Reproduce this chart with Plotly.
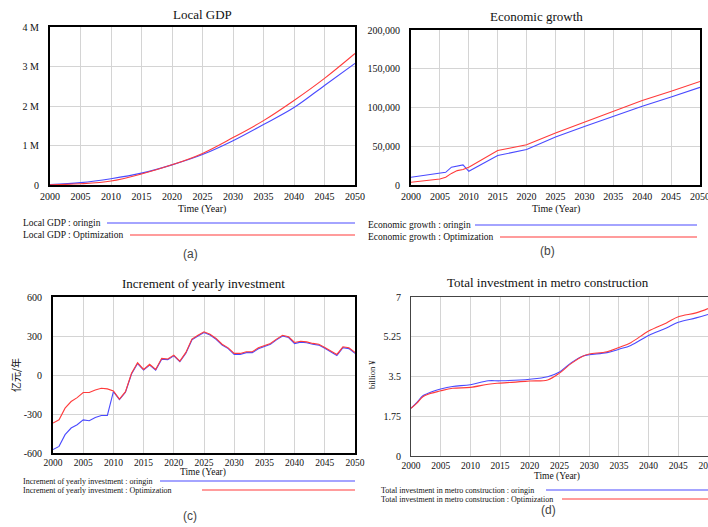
import plotly.graph_objects as go

W, H = 708, 527

# ---------------- data ----------------
# (a) Local GDP
gdp_years = [2000, 2005, 2010, 2015, 2020, 2025, 2030, 2035, 2040, 2045, 2050]
gdp_origin = [0.01e6, 0.06e6, 0.16e6, 0.30e6, 0.51e6, 0.77e6, 1.12e6, 1.53e6, 1.96e6, 2.52e6, 3.08e6]
gdp_opt = [0.005e6, 0.03e6, 0.10e6, 0.28e6, 0.51e6, 0.80e6, 1.20e6, 1.63e6, 2.14e6, 2.70e6, 3.33e6]
gdp_tickvals = [0, 1e6, 2e6, 3e6, 4e6]
gdp_ticktext = ["0", "1 M", "2 M", "3 M", "4 M"]

# (b) Economic growth
eco_years_origin = [2000, 2005, 2006, 2007, 2009, 2010, 2015, 2020, 2025, 2030, 2035, 2040, 2045, 2050]
eco_origin = [9900, 15000, 16400, 23000, 26000, 17700, 38000, 45800, 62000, 75600, 89000, 101500, 113600, 126000]
eco_years_opt = [2000, 2005, 2006, 2007, 2008, 2009, 2010, 2015, 2017, 2020, 2025, 2030, 2035, 2040, 2045, 2050]
eco_opt = [3500, 7800, 10000, 15000, 18600, 20000, 23000, 44500, 47500, 52000, 67000, 81000, 96000, 109000, 121000, 133500]
eco_tickvals = [0, 50000, 100000, 150000, 200000]
eco_ticktext = ["0", "50,000", "100,000", "150,000", "200,000"]

# (c) Increment of yearly investment (annual)
inc_years = list(range(2000, 2051))
inc_origin = [-574, -549, -459, -408, -383, -345, -352, -327, -311, -311,
              -128, -190, -133, 8, 88, 38, 76, 38, 122, 118,
              147, 102, 168, 270, 300, 327, 308, 275, 230, 203,
              158, 159, 172, 172, 202, 218, 236, 270, 300, 288,
              242, 253, 248, 236, 230, 205, 180, 150, 210, 203, 166]
inc_opt = [-370, -345, -255, -204, -174, -135, -135, -115, -102, -107,
           -122, -186, -128, 13, 94, 43, 82, 43, 128, 123,
           153, 107, 174, 276, 306, 332, 314, 281, 237, 209,
           166, 166, 179, 179, 209, 225, 243, 276, 306, 294,
           250, 260, 255, 243, 237, 212, 186, 158, 217, 209, 174]
inc_tickvals = [-600, -300, 0, 300, 600]
inc_ticktext = ["-600", "-300", "0", "300", "600"]

# (d) Total investment in metro construction
metro_years = [2000, 2001, 2002, 2003, 2004, 2005, 2007, 2010, 2013, 2015, 2020, 2023,
               2025, 2027, 2029, 2030, 2033, 2035, 2037, 2040, 2043, 2045, 2048, 2050]
metro_origin = [2.10, 2.36, 2.65, 2.77, 2.87, 2.95, 3.06, 3.14, 3.31, 3.31, 3.38, 3.49,
                3.70, 4.11, 4.40, 4.46, 4.55, 4.70, 4.87, 5.31, 5.64, 5.89, 6.08, 6.23]
metro_opt = [2.10, 2.33, 2.61, 2.73, 2.80, 2.87, 2.98, 3.02, 3.16, 3.21, 3.30, 3.35,
             3.65, 4.08, 4.40, 4.49, 4.59, 4.78, 4.99, 5.50, 5.86, 6.13, 6.30, 6.49]
metro_tickvals = [0, 1.75, 3.5, 5.25, 7]
metro_ticktext = ["0", "1.75", "3.5", "5.25", "7"]

year_ticks = list(range(2000, 2051, 5))

BLUE = "#4a4aff"
RED = "#ff3b3b"
SERIF = "Liberation Serif"
SANS = "Liberation Sans"


def fx(px):
    return px / W


def fy(py):
    return 1 - py / H


fig = go.Figure()

panels = [
    dict(box=(50, 355, 27, 185), yr=[0, 4e6], tv=gdp_tickvals, tt=gdp_ticktext,
         series=[(gdp_years, gdp_origin, BLUE), (gdp_years, gdp_opt, RED)],
         shape="spline", lc="#000000", lw=2, xfs=10, xso=1),
    dict(box=(411, 700, 30, 185), yr=[0, 200000], tv=eco_tickvals, tt=eco_ticktext,
         series=[(eco_years_origin, eco_origin, BLUE), (eco_years_opt, eco_opt, RED)],
         shape="linear", lc="#000000", lw=2, xfs=10, xso=1),
    dict(box=(53, 355, 297, 453), yr=[-600, 600], tv=inc_tickvals, tt=inc_ticktext,
         series=[(inc_years, inc_origin, BLUE), (inc_years, inc_opt, RED)],
         shape="linear", lc="#000000", lw=2, xfs=9.5, xso=0),
    dict(box=(411, 708, 297, 456), yr=[0, 7], tv=metro_tickvals, tt=metro_ticktext,
         series=[(metro_years, metro_origin, BLUE), (metro_years, metro_opt, RED)],
         shape="spline", lc="#444444", lw=1.2, xfs=9.5, xso=0),
]

layout_axes = {}
for i, p in enumerate(panels, start=1):
    x0, x1, yt, yb = p["box"]
    xa = "x" if i == 1 else f"x{i}"
    ya = "y" if i == 1 else f"y{i}"
    for xs, ys, col in p["series"]:
        fig.add_trace(go.Scatter(x=xs, y=ys, mode="lines", xaxis=xa, yaxis=ya,
                                 line=dict(color=col, width=1.1, shape=p["shape"]),
                                 showlegend=False, hoverinfo="skip"))
    xkey = "xaxis" if i == 1 else f"xaxis{i}"
    ykey = "yaxis" if i == 1 else f"yaxis{i}"
    layout_axes[xkey] = dict(
        domain=[fx(x0), min(fx(x1), 1.0)], anchor=ya, range=[2000, 2050],
        tickvals=year_ticks, ticktext=[str(t) for t in year_ticks],
        showgrid=True, gridcolor="#d4d4d4", gridwidth=1, zeroline=False,
        showline=True, mirror=True, linecolor=p["lc"], linewidth=p["lw"],
        ticks="", ticklabelstandoff=p["xso"], automargin=False,
        ticklabeloverflow="allow",
        tickfont=dict(family=SERIF, size=p["xfs"], color="#111111"),
    )
    layout_axes[ykey] = dict(
        domain=[fy(yb), fy(yt)], anchor=xa, range=p["yr"],
        tickvals=p["tv"], ticktext=p["tt"],
        showgrid=True, gridcolor="#d4d4d4", gridwidth=1, zeroline=False,
        showline=True, mirror=True, linecolor=p["lc"], linewidth=p["lw"],
        ticks="", ticklabelstandoff=7, automargin=False,
        tickfont=dict(family=SERIF, size=10, color="#111111"),
    )

annotations = []


def text(px, py, s, size, family=SERIF, xanchor="center", color="#111111", angle=0):
    annotations.append(dict(x=fx(px), y=fy(py), xref="paper", yref="paper", text=s,
                            showarrow=False, xanchor=xanchor, yanchor="middle",
                            textangle=angle,
                            font=dict(family=family, size=size, color=color)))


# chart titles
text(202, 15, "Local GDP", 13)
text(536, 16, "Economic growth", 13)
text(203, 283, "Increment of yearly investment", 13)
text(548, 282, "Total investment in metro construction", 13)

# axis titles
text(202, 209, "Time (Year)", 10)
text(556, 209, "Time (Year)", 10)
text(203, 472, "Time (Year)", 9.5)
text(557, 476, "Time (Year)", 9.5)
text(15, 375, "亿元/年", 10, family="Noto Sans CJK SC", angle=-90)
text(372, 375, "billion ¥", 8.5, angle=-90)

# panel labels
text(190, 254, "(a)", 12, family=SANS, color="#444444")
text(547, 251, "(b)", 12, family=SANS, color="#444444")
text(190, 516, "(c)", 12, family=SANS, color="#444444")
text(548, 510, "(d)", 12, family=SANS, color="#444444")

# series keys below each chart
shapes = []
keys = [
    (21, 223, 235, "Local GDP : oringin", "Local GDP : Optimization", 107, 130, 355, 9.5),
    (366, 225, 237, "Economic growth : oringin", "Economic growth : Optimization", 475, 500, 697, 9.5),
    (21, 481, 490, "Increment of yearly investment : oringin",
     "Increment of yearly investment : Optimization", 160, 202, 355, 8),
    (379, 490, 499, "Total investment in metro construction : oringin",
     "Total investment in metro construction : Optimization", 546, 562, 708, 8),
]
for tx, y1, y2, s1, s2, lx1, lx2, lend, fs in keys:
    text(tx, y1, s1, fs, xanchor="left")
    text(tx, y2, s2, fs, xanchor="left")
    shapes.append(dict(type="line", xref="paper", yref="paper", x0=fx(lx1), x1=fx(lend),
                       y0=fy(y1), y1=fy(y1), line=dict(color=BLUE, width=1.2)))
    shapes.append(dict(type="line", xref="paper", yref="paper", x0=fx(lx2), x1=fx(lend),
                       y0=fy(y2), y1=fy(y2), line=dict(color=RED, width=1.2)))

fig.update_layout(
    width=W, height=H, margin=dict(l=0, r=0, t=0, b=0),
    paper_bgcolor="white", plot_bgcolor="white",
    font=dict(family=SERIF, color="#111111"),
    showlegend=False, annotations=annotations, shapes=shapes,
    **layout_axes,
)

fig.write_html("out.html")
